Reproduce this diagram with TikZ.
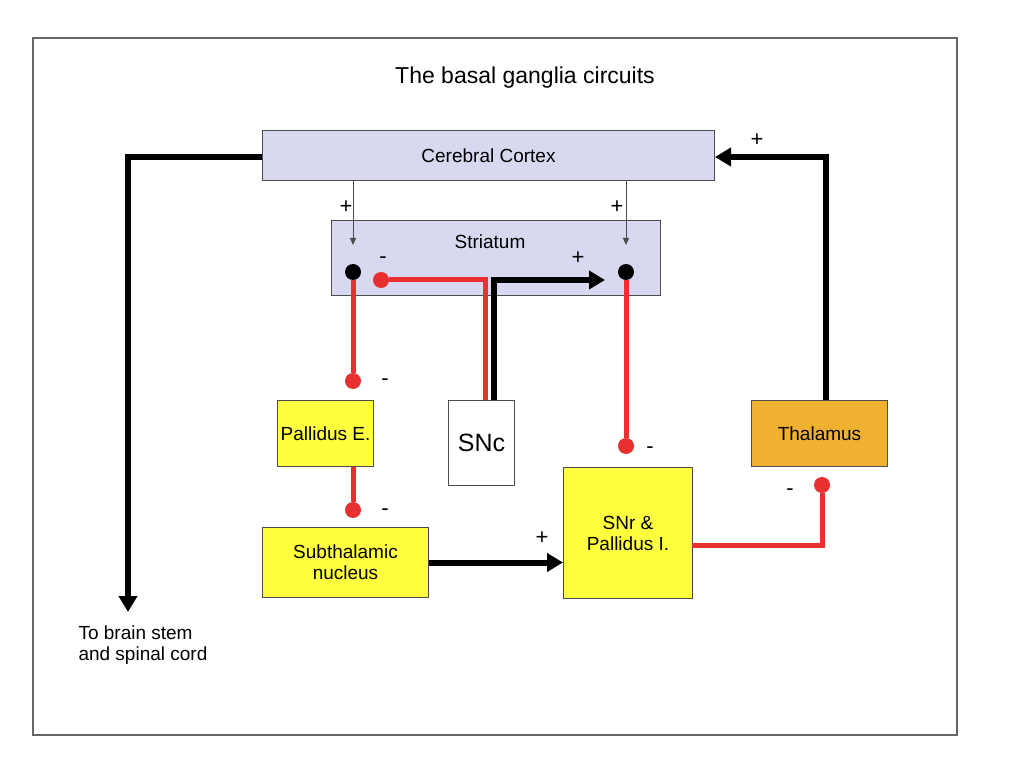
\documentclass[tikz,border=0pt]{standalone}
\usepackage{fontspec}
\setmainfont{Liberation Sans}
\usetikzlibrary{arrows.meta}
\definecolor{lav}{HTML}{D8D8F0}
\definecolor{yel}{HTML}{FFFF40}
\definecolor{ora}{HTML}{F0B030}
\definecolor{rd}{HTML}{E83030}
\begin{document}
\begin{tikzpicture}[x=1pt,y=-1pt,
  box/.style={draw=black!70,line width=1pt,inner sep=0pt,anchor=north west},
  exc/.style={black,line width=6pt,-{Triangle[length=16pt,width=18pt]}},
  thin/.style={black!70,line width=1pt,-{Triangle[length=7pt,width=6pt]}},
  inh/.style={rd,line width=5pt},
  dotr/.style={circle,fill=rd,inner sep=0pt,minimum size=16pt},
  dotb/.style={circle,fill=black,inner sep=0pt,minimum size=16pt},
  lbl/.style={font=\fontsize{19}{21}\selectfont},
  sgn/.style={font=\fontsize{22}{22}\selectfont}]
\useasboundingbox (0,0) rectangle (1023,775);
\fill[white] (0,0) rectangle (1023,775);
\draw[black!60,line width=1.2pt] (33,38) rectangle (957,735);
\node[font=\fontsize{23}{25}\selectfont] (title) at (525,78) {The basal ganglia circuits};
\node[box,fill=lav,minimum width=452pt,minimum height=50pt] (ctx) at (262,130) {};
\node[lbl] at (ctx.center) {Cerebral Cortex};
\node[box,fill=lav,minimum width=329pt,minimum height=75pt] (str) at (331,220) {};
\node[lbl] at (490,242) {Striatum};
\node[box,fill=yel,minimum width=96pt,minimum height=66pt] (pe) at (277,400) {};
\node[lbl] at (pe.center) {Pallidus E.};
\node[box,fill=white,minimum width=66pt,minimum height=85pt] (snc) at (448,400) {};
\node[font=\fontsize{25}{27}\selectfont] at (snc.center) {SNc};
\node[box,fill=yel,minimum width=129pt,minimum height=131pt] (snr) at (563,467) {};
\node[lbl,align=center] at (snr.center) {SNr \&\\Pallidus I.};
\node[box,fill=ora,minimum width=136pt,minimum height=66pt] (th) at (751,400) {};
\node[lbl] at (th.center) {Thalamus};
\node[box,fill=yel,minimum width=166pt,minimum height=70pt] (stn) at (262,527) {};
\node[lbl,align=center] at (stn.center) {Subthalamic\\nucleus};
% dots
\node[dotb] (b1) at (353,272) {};
\node[dotb] (b2) at (626,272) {};
\node[dotr] (r1) at (381,280) {};
\node[dotr] (rpe) at (353,381) {};
\node[dotr] (rstn) at (353,510) {};
\node[dotr] (rsnr) at (626,446) {};
\node[dotr] (rth) at (822,485) {};
\coordinate (plus) at (605,280);
\coordinate (brain) at (128,612);
\coordinate (thtop) at (826,400);
% connectors
\draw[thin] (ctx.south -| b1) -- (353,245);
\draw[thin] (ctx.south -| b2) -- (626,245);
\draw[inh] (b1) -- (rpe);
\draw[inh] (pe.south -| rstn) -- (rstn);
\draw[inh] (b2) -- (rsnr);
\draw[inh] (r1) -- (485,280) -- (485,400);
\draw[exc] (494,400) -- (494,280) -- (plus);
\draw[exc] (stn.east) -- (snr.west |- stn.east);
\draw[inh] (692,545) -- (822,545) -- (rth);
\draw[exc] (thtop) -- (826,157) -- (ctx.east |- 826,157);
\draw[exc] (ctx.west |- 0,157) -- (128,157) -- (brain);
\node[lbl,align=left,anchor=north west] at (75,622) {To brain stem\\and spinal cord};
% signs
\node[sgn] at (346,207) {+};
\node[sgn] at (617,207) {+};
\node[sgn] at (578,258) {+};
\node[sgn] at (757,140) {+};
\node[sgn] at (542,538) {+};
\node[sgn] at (383,260) {-};
\node[sgn] at (385,382) {-};
\node[sgn] at (385,512) {-};
\node[sgn] at (650,450) {-};
\node[sgn] at (790,492) {-};
\end{tikzpicture}
\end{document}
